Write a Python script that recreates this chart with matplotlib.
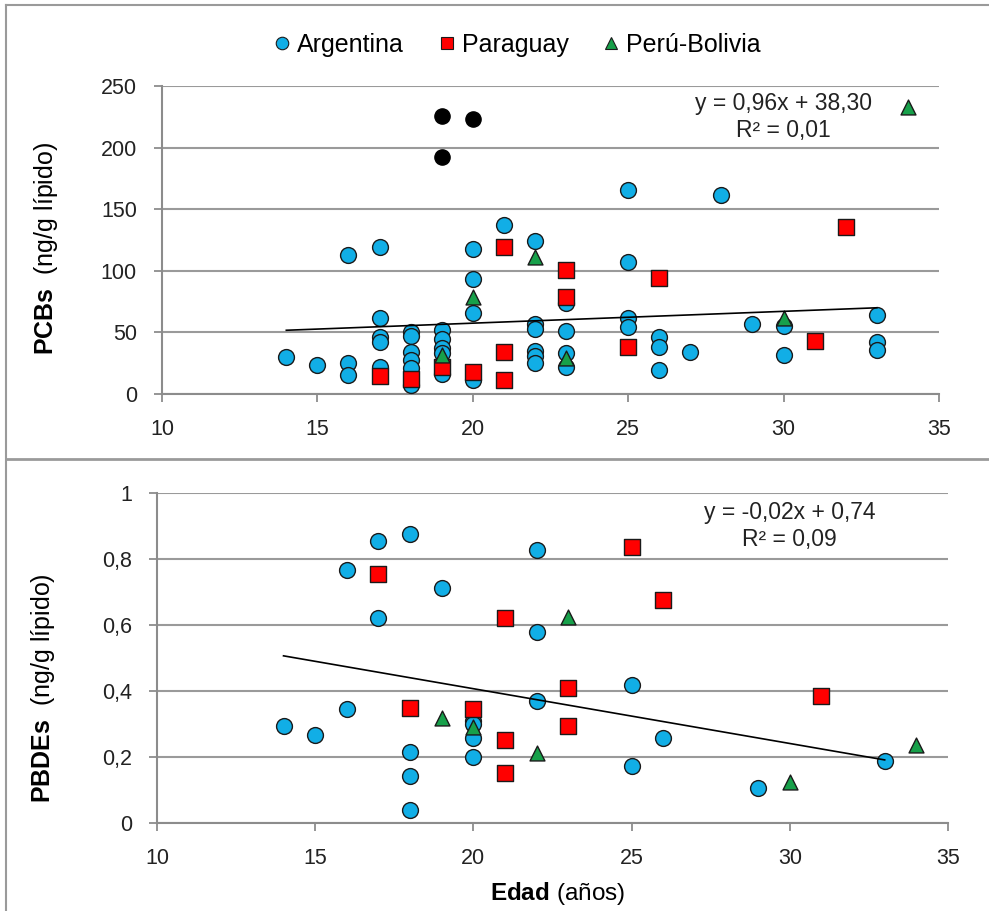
import numpy as np
import matplotlib
matplotlib.use("Agg")
import matplotlib.pyplot as plt
from matplotlib.lines import Line2D

plt.rcParams['font.family'] = ['Liberation Sans', 'DejaVu Sans']
plt.rcParams['mathtext.fontset'] = 'custom'
plt.rcParams['mathtext.rm'] = 'Liberation Sans'
plt.rcParams['mathtext.bf'] = 'Liberation Sans:bold'

# ---- PCBs (top panel) ----
pcb_arg_x = [14, 15, 16, 16, 16, 17, 17, 17, 17, 17, 18, 18, 18, 18, 18, 18,
             19, 19, 19, 19, 19, 20, 20, 20, 20, 21, 22, 22, 22, 22, 22, 22,
             23, 23, 23, 23, 25, 25, 25, 25, 26, 26, 26, 27, 28, 29, 30, 30,
             33, 33, 33]
pcb_arg_y = [30, 23.5, 113, 25, 15.5, 119.5, 62, 46.5, 42.5, 22, 50.5, 47, 34, 27.5, 21, 7.5,
             52, 45, 37, 33, 16, 118, 93, 66, 11, 137, 124.5, 57, 53, 35, 31, 25,
             74, 51.5, 33, 22, 165.5, 107.5, 62, 54.5, 46, 38, 19.5, 34, 161.5, 56.5, 55, 31.5,
             64, 42.5, 35.5]
pcb_par_x = [17, 18, 19, 20, 21, 21, 21, 23, 23, 25, 26, 31, 32]
pcb_par_y = [14.5, 12, 22, 18, 119.5, 34, 11.5, 101, 79, 38, 94.5, 43, 135.5]
pcb_per_x = [19, 20, 22, 23, 30, 34]
pcb_per_y = [31.5, 78.5, 111.5, 29, 61.5, 233]
pcb_out_x = [19, 19, 20]
pcb_out_y = [225.5, 192.5, 223]
pcb_fit = (0.96, 38.30)

# ---- PBDEs (bottom panel) ----
pbde_arg_x = [14, 15, 16, 16, 17, 17, 18, 18, 18, 18, 19, 20, 20, 20, 20,
              22, 22, 22, 25, 25, 26, 29, 33]
pbde_arg_y = [0.295, 0.266, 0.767, 0.345, 0.855, 0.62, 0.876, 0.216, 0.142, 0.039, 0.713,
              0.31, 0.30, 0.257, 0.199, 0.827, 0.58, 0.371, 0.418, 0.174, 0.257, 0.105, 0.188]
pbde_par_x = [17, 18, 20, 21, 21, 21, 23, 23, 25, 26, 31]
pbde_par_y = [0.754, 0.349, 0.345, 0.62, 0.252, 0.152, 0.408, 0.295, 0.837, 0.676, 0.385]
pbde_per_x = [19, 20, 22, 23, 30, 34]
pbde_per_y = [0.317, 0.29, 0.211, 0.625, 0.125, 0.236]
pbde_fit = (-0.0166, 0.739)

series_names = ['Argentina', 'Paraguay', 'Perú-Bolivia']
colors = ['#11AEE6', '#FF0000', '#17A04A']
markers = ['o', 's', '^']
sizes = [130, 125, 115]

fig = plt.figure(figsize=(9.89, 9.11), dpi=100)

# panel frame lines
fig.add_artist(Line2D([0.006, 0.006], [0, 0.995], color='#9a9a9a', lw=1.5))
fig.add_artist(Line2D([0.006, 1.0], [0.995, 0.995], color='#9a9a9a', lw=1.5))
fig.add_artist(Line2D([0.006, 1.0], [0.496, 0.496], color='#9a9a9a', lw=2))

ax1 = fig.add_axes([0.1638, 0.5675, 0.7856, 0.3381])
ax2 = fig.add_axes([0.1587, 0.0966, 0.7998, 0.3622])


def style(ax, ymax, ystep, fmt):
    ax.set_xlim(10, 35)
    ax.set_ylim(0, ymax)
    ax.set_xticks(np.arange(10, 36, 5))
    yt = np.arange(0, ymax + ystep / 2, ystep)
    ax.set_yticks(yt)
    ax.set_yticklabels([fmt(v) for v in yt])
    for s in ['top', 'right']:
        ax.spines[s].set_visible(False)
    for s in ['left', 'bottom']:
        ax.spines[s].set_color('#8c8c8c')
        ax.spines[s].set_linewidth(1.5)
    ax.tick_params(axis='both', direction='out', length=6, width=1.3, color='#8c8c8c',
                   labelsize=15.5, labelcolor='#222222')
    ax.tick_params(axis='y', pad=12)
    ax.tick_params(axis='x', pad=12)
    ax.grid(True, axis='y', color='#9a9a9a', lw=1.5)
    ax.set_axisbelow(True)


def plot_panel(ax, data, fit, eq):
    for (xs, ys), c, m, s, name in zip(data, colors, markers, sizes, series_names):
        ax.scatter(xs, ys, s=s, c=c, marker=m, edgecolors='#1a1a1a', linewidths=1.0,
                   zorder=3, label=name)
    xa = np.array(data[0][0])
    xl = np.array([xa.min(), xa.max()])
    ax.plot(xl, fit[0] * xl + fit[1], color='black', lw=1.2, zorder=4)
    ax.text(0.80, 0.900, eq, transform=ax.transAxes, ha='center', va='center',
            fontsize=16.5, color='#222222', linespacing=1.2)


style(ax1, 250, 50, lambda v: f'{int(v)}')
plot_panel(ax1, [(pcb_arg_x, pcb_arg_y), (pcb_par_x, pcb_par_y), (pcb_per_x, pcb_per_y)],
           pcb_fit, 'y = 0,96x + 38,30\nR² = 0,01')
ax1.scatter(pcb_out_x, pcb_out_y, s=120, c='black', marker='o', zorder=3)
ax1.set_ylabel(r'$\mathbf{PCBs}$  (ng/g lípido)', fontsize=18)
ax1.yaxis.set_label_coords(-0.131, 0.474)

style(ax2, 1.0, 0.2, lambda v: '0' if v == 0 else ('1' if abs(v - 1) < 1e-9 else f'{v:.1f}'.replace('.', ',')))
plot_panel(ax2, [(pbde_arg_x, pbde_arg_y), (pbde_par_x, pbde_par_y), (pbde_per_x, pbde_per_y)],
           pbde_fit, 'y = -0,02x + 0,74\nR² = 0,09')
ax2.set_ylabel(r'$\mathbf{PBDEs}$  (ng/g lípido)', fontsize=18)
ax2.yaxis.set_label_coords(-0.126, 0.409)
ax2.set_xlabel(r'$\mathbf{Edad}$ (años)', fontsize=17.5)
ax2.xaxis.set_label_coords(0.507, -0.173)

handles = [Line2D([], [], ls='none', marker=m, color=c, markeredgecolor='#1a1a1a',
                  markeredgewidth=0.8, markersize=9)
           for m, c in zip(markers, colors)]
fig.legend(handles, series_names, loc='center', bbox_to_anchor=(0.521, 0.951), ncol=3,
           frameon=False, fontsize=18, handletextpad=0.1, columnspacing=1.2,
           handlelength=1.0)

fig.savefig('out.png', dpi=100)
